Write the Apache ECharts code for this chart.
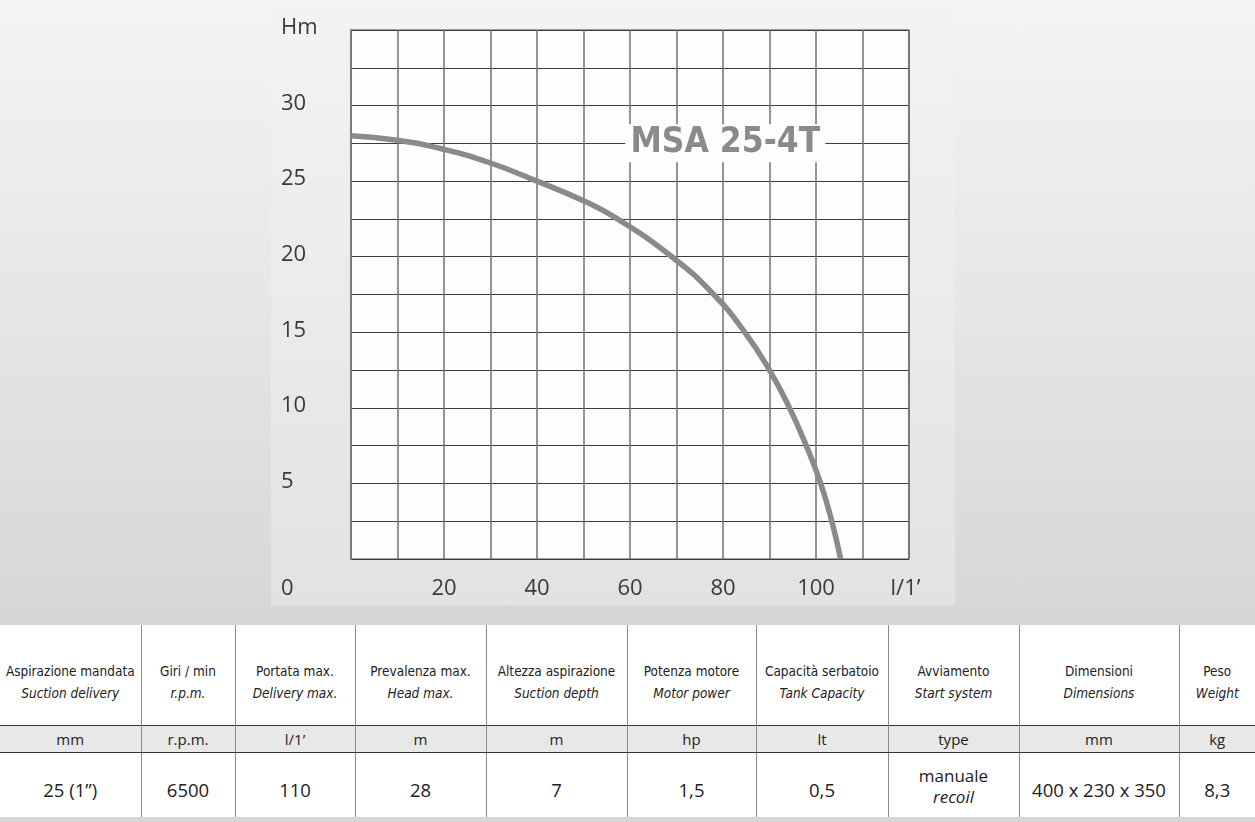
<!DOCTYPE html>
<html>
<head>
<meta charset="utf-8">
<script src="https://cdn.jsdelivr.net/npm/echarts@6/dist/echarts.min.js"></script>
<style>
  html, body { margin:0; padding:0; }
  body { width:1255px; height:822px; overflow:hidden; position:relative;
         background: linear-gradient(to bottom, #f4f4f4 0px, #e6e6e6 300px, #d7d7d7 610px); }
  #panel { position:absolute; left:271px; top:0; width:684px; height:605px;
           background: linear-gradient(to bottom, #f3f3f3 0px, #ebebeb 300px, #e2e2e2 605px); }
  #chart { position:absolute; left:0; top:0; width:1255px; height:610px; }
  #band { position:absolute; left:0; top:610px; width:1255px; height:15px; background:#d6d6d6; }
  #spec { position:absolute; left:0; top:625px; width:1255px; border-collapse:collapse; table-layout:fixed; background:#fff; }
  #spec td { text-align:center; padding:0; color:#222; border-left:1.5px solid #8a8a8a; white-space:nowrap; }
  #spec td:first-child { border-left:none; }
  #spec tr.h td { height:100px; padding-top:14px; box-sizing:border-box; font-family:"DejaVu Sans Condensed","DejaVu Sans",sans-serif; font-size:13.5px; line-height:22px; }
  #spec tr.h td i { display:block; }
  #spec tr.u td { height:26px; background:#e8e8e8; border-top:1px solid #333; border-bottom:1px solid #333; font-family:"Open Sans",sans-serif; font-size:15px; }
  #spec tr.v td { height:65px; padding-top:10px; box-sizing:border-box; font-family:"Open Sans",sans-serif; font-size:18.5px; line-height:21px; }
  #bottomband { position:absolute; left:0; top:818px; width:1255px; height:4px; background:#d6d6d6; }
</style>
</head>
<body>
<div id="panel"></div>
<div id="chart"></div>
<div id="band"></div>
<table id="spec"></table>
<div id="bottomband"></div>
<script>
// ---- chart data (where the curve crosses the grid lines) ----
const flowLpm = [0, 10, 20, 30, 40, 50, 57.3, 69.0, 78.0, 84.7, 90.0, 94.3, 97.9, 101.0, 103.4, 105.3];
const headM   = [28.0, 27.7, 27.1, 26.2, 25.0, 23.7, 22.5, 20.0, 17.5, 15.0, 12.5, 10.0, 7.5, 5.0, 2.5, 0];
const xTickLabels = [20, 40, 60, 80, 100];
const xUnitLabel = "l/1’";
const yTickLabels = [5, 10, 15, 20, 25, 30];
const yUnitLabel = "Hm";
const modelName = "MSA 25-4T";
const modelLabelAt = [80.5, 27.5];

// ---- table data ----
const headItalian = ["Aspirazione mandata", "Giri / min", "Portata max.", "Prevalenza max.", "Altezza aspirazione", "Potenza motore", "Capacità serbatoio", "Avviamento", "Dimensioni", "Peso"];
const headEnglish = ["Suction delivery", "r.p.m.", "Delivery max.", "Head max.", "Suction depth", "Motor power", "Tank Capacity", "Start system", "Dimensions", "Weight"];
const unitsRow = ["mm", "r.p.m.", "l/1’", "m", "m", "hp", "lt", "type", "mm", "kg"];
const valuesRow = ["25 (1”)", "6500", "110", "28", "7", "1,5", "0,5", "manuale|recoil", "400 x 230 x 350", "8,3"];
const colWidths = [141, 94, 120, 131, 141, 129, 132, 131, 160, 76];

// build table
(function(){
  const t = document.getElementById('spec');
  const cg = document.createElement('colgroup');
  colWidths.forEach(w => { const c = document.createElement('col'); c.style.width = w + 'px'; cg.appendChild(c); });
  t.appendChild(cg);
  const r1 = document.createElement('tr'); r1.className = 'h';
  headItalian.forEach((h, i) => {
    const td = document.createElement('td');
    td.appendChild(document.createTextNode(h));
    const it = document.createElement('i'); it.textContent = headEnglish[i];
    td.appendChild(it); r1.appendChild(td);
  });
  const r2 = document.createElement('tr'); r2.className = 'u';
  unitsRow.forEach(u => { const td = document.createElement('td'); td.textContent = u; r2.appendChild(td); });
  const r3 = document.createElement('tr'); r3.className = 'v';
  valuesRow.forEach(v => {
    const td = document.createElement('td');
    if (v.indexOf('|') >= 0) {
      const p = v.split('|');
      td.style.fontSize = '17px';
      td.style.paddingTop = '2px';
      td.appendChild(document.createTextNode(p[0]));
      td.appendChild(document.createElement('br'));
      const it = document.createElement('i'); it.textContent = p[1]; td.appendChild(it);
    } else td.textContent = v;
    r3.appendChild(td);
  });
  t.appendChild(r1); t.appendChild(r2); t.appendChild(r3);
})();

const chart = echarts.init(document.getElementById('chart'), null, {renderer: 'canvas'});
const labelFont = {fontFamily: '"Open Sans", sans-serif', fontSize: 22, color: '#3a3a3a'};
chart.setOption({
  animation: false,
  grid: {left: 351, right: 346, top: 30, bottom: 51, show: true, backgroundColor: '#fdfdfd', borderColor: '#4a4a4a', borderWidth: 1.2},
  xAxis: {
    type: 'value', min: 0, max: 120, interval: 10,
    axisLine: {show: false}, axisTick: {show: false},
    splitLine: {show: true, lineStyle: {color: '#707070', width: 1.5}},
    axisLabel: Object.assign({}, labelFont, {
      margin: 19, showMinLabel: true, showMaxLabel: true,
      formatter: v => v === 120 ? '{u|' + xUnitLabel + '}' : (xTickLabels.indexOf(v) >= 0 ? String(v) : ''),
      rich: {u: Object.assign({}, labelFont, {padding: [0, 7, 0, 0]})}
    })
  },
  yAxis: {
    type: 'value', min: 0, max: 35, interval: 2.5,
    axisLine: {show: true, lineStyle: {color: '#7a7a7a', width: 2}}, axisTick: {show: false},
    splitLine: {show: true, lineStyle: {color: '#3c3c3c', width: 1.2}},
    axisLabel: Object.assign({}, labelFont, {
      align: 'left', margin: 70, padding: [0, 0, 4, 0], showMinLabel: true, showMaxLabel: true,
      formatter: v => v === 35 ? yUnitLabel : (v === 0 ? '{z|0}' : (yTickLabels.indexOf(v) >= 0 ? String(v) : '')),
      rich: {z: Object.assign({}, labelFont, {padding: [64, 0, 0, 0]})}
    })
  },
  series: [{
    type: 'line', data: flowLpm.map((x, i) => [x, headM[i]]),
    smooth: 0.5, symbol: 'none', clip: false,
    lineStyle: {color: '#8a8a8a', width: 5.5},
    markPoint: {
      silent: true,
      data: [{coord: modelLabelAt, symbol: 'rect', symbolSize: [200, 38], itemStyle: {color: '#fdfdfd'},
        label: {show: true, position: 'inside', formatter: modelName, fontFamily: '"DejaVu Sans Condensed", "DejaVu Sans", sans-serif', fontWeight: 'bold', fontSize: 35, color: '#8a8a8a'}}]
    }
  }]
});
</script>
</body>
</html>
